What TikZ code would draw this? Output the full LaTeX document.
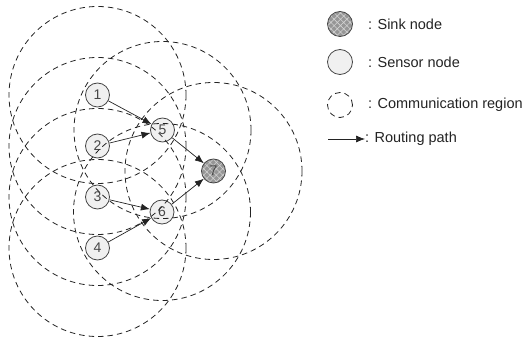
\documentclass[tikz,border=0pt]{standalone}
\usepackage{fontspec}
\setmainfont{Liberation Sans}
\usetikzlibrary{arrows.meta,patterns.meta}
\definecolor{240_240_240}{RGB}{240, 240, 240}
\definecolor{70_70_70}{RGB}{70, 70, 70}
\definecolor{150_150_150}{RGB}{150, 150, 150}
\definecolor{210_210_210}{RGB}{210, 210, 210}
\definecolor{35_35_35}{RGB}{35, 35, 35}

\begin{document}
\begin{tikzpicture}[
        x=1pt,
        y=-1pt,
        sensor/.style={
            circle,
            draw=70_70_70,
            line width=0.8pt,
            fill=240_240_240,
            minimum size=24pt,
            inner sep=0pt,
            text=70_70_70,
            font=\fontsize{14}{14}\selectfont
        },
        sink/.style={
            circle,
            draw=70_70_70,
            line width=0.8pt,
            minimum size=24pt,
            inner sep=0pt,
            text=70_70_70,
            font=\fontsize{14}{14}\selectfont,
            preaction={fill=150_150_150},
            pattern={Hatch[angle=45,distance=4.5pt,line width=0.6pt]},
            pattern color=210_210_210
        },
        region/.style={draw=35_35_35, line width=0.8pt, dash pattern=on 5.5pt off 4pt},
        route/.style={draw=35_35_35, line width=0.7pt, -{Latex[length=9pt,width=7pt]}},
        legend/.style={anchor=west, inner sep=0pt, text=35_35_35, font=\fontsize{14.5}{15}\selectfont}
    ]
    \useasboundingbox (0,0) rectangle (529,347);

    \node[sensor] (n1) at (97.5,95) {1};
    \node[sensor] (n2) at (97.5,146) {2};
    \node[sensor] (n3) at (97.5,197) {3};
    \node[sensor] (n4) at (97.5,248) {4};
    \node[sensor] (n5) at (162.5,130) {5};
    \node[sensor] (n6) at (162,212) {6};
    \node[sink] (n7) at (213.5,171) {7};

    \foreach \n in {n1,n2,n3,n4,n5,n6,n7}
        \draw[region] (\n) circle (88.5);

    \draw[route] (n1) -- (n5);
    \draw[route] (n2) -- (n5);
    \draw[route] (n3) -- (n6);
    \draw[route] (n4) -- (n6);
    \draw[route] (n5) -- (n7);
    \draw[route] (n6) -- (n7);

    \node[sink, minimum size=25pt] (sinkkey) at (340,24) {};
    \node[sensor, minimum size=25pt] (sensorkey) at (340,62) {};
    \node[circle, region, minimum size=25pt] (regionkey) at (340,105) {};
    \coordinate (routekey) at (328,139);
    \node[legend] (sinktext) at (368,24) {: Sink node};
    \node[legend] (sensortext) at (368,62) {: Sensor node};
    \node[legend] (regiontext) at (368,105) {: Communication region};
    \node[legend] (routetext) at (365,139) {: Routing path};
    \draw[route] (routekey) -- (routetext.west);
\end{tikzpicture}
\end{document}
